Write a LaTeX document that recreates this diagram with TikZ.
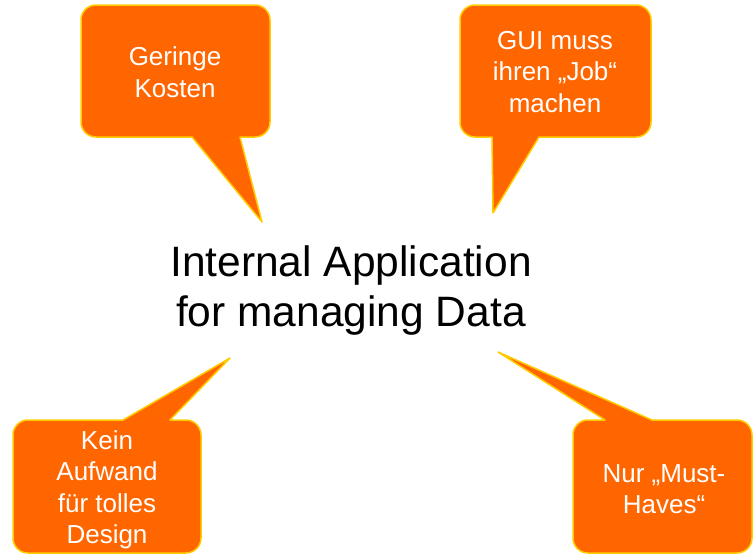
\documentclass[tikz,border=0pt]{standalone}
\usepackage{fontspec}
\setmainfont{Liberation Sans}
\usepackage{tikz}
\usepackage{xcolor}
\definecolor{bubblefill}{RGB}{255,102,0}
\definecolor{bubbleline}{RGB}{255,204,0}

\begin{document}
\begin{tikzpicture}[
  x=1pt, y=-1pt,
  bubble/.style={fill=bubblefill, draw=bubbleline, line width=1.5pt, line join=round},
  btext/.style={text=white, align=center, font=\fontsize{26}{31.5}\selectfont},
  maintext/.style={align=center, font=\fontsize{42.5}{50}\selectfont},
]
\useasboundingbox (0,0) rectangle (754,555);

%% ---- speech bubbles ----
% top left
\draw[bubble] (262,222) -- (192,137) [rounded corners=15pt] -- (81,137) -- (81,5)
  -- (270,5) -- (270,137) [sharp corners] -- (240,137) -- cycle;
% top right
\draw[bubble] (493,213) -- (492,137) [rounded corners=15pt] -- (460,137) -- (460,5)
  -- (651,5) -- (651,137) [sharp corners] -- (539,137) -- cycle;
% bottom left
\draw[bubble] (230,358) -- (123,420) [rounded corners=15pt] -- (13,420) -- (13,553)
  -- (201,553) -- (201,420) [sharp corners] -- (170,420) -- cycle;
% bottom right
\draw[bubble] (498,352) -- (605,420) [rounded corners=15pt] -- (573,420) -- (573,553)
  -- (752,553) -- (752,420) [sharp corners] -- (652,420) -- cycle;

%% ---- texts ----
\node[btext] (kosten) at (175,72)  {Geringe\\Kosten};
\node[btext] (gui)    at (555,72)  {GUI muss\\ihren „Job“\\machen};
\node[btext] (design) at (107,490) {Kein\\Aufwand\\für tolles\\Design};
\node[btext] (must)   at (664,489) {Nur „Must-\\Haves“};

\node[maintext] (app) at (351,291) {Internal Application\\for managing Data};

\end{tikzpicture}
\end{document}
